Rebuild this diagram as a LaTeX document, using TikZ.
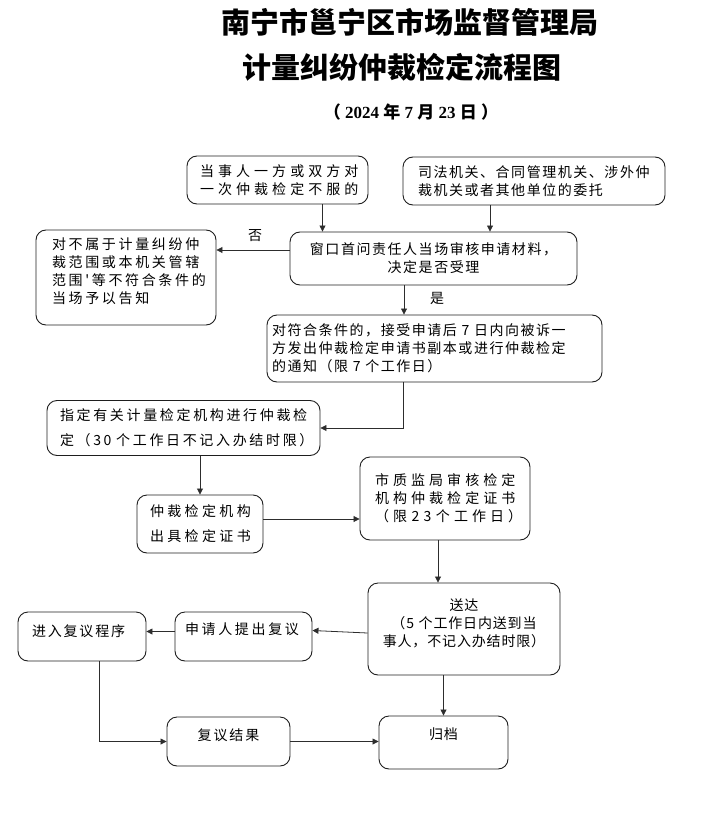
\documentclass[tikz,border=0pt]{standalone}
\usepackage{fontspec}
\setmainfont{Liberation Serif}
\newfontfamily\cjk{Noto Sans CJK SC}
\definecolor{boxline}{RGB}{30,30,30}
\definecolor{arrowline}{RGB}{45,45,45}
\usetikzlibrary{arrows.meta, positioning, calc}

\begin{document}
\begin{tikzpicture}[x=1pt, y=-1pt,
  >={Triangle[length=6pt,width=6pt]},
  procbox/.style={
    rectangle, rounded corners=10pt,
    draw=boxline, line width=0.9pt,
    inner xsep=0pt, inner ysep=3pt,
  },
  ls/.style={
    font=\fontsize{14}{18}\selectfont\cjk\addfontfeature{LetterSpace=#1},
  },
  arr/.style={
    ->, line width=0.8pt, color=arrowline,
  },
  titletext/.style={
    font=\fontsize{29}{35}\selectfont\cjk\bfseries,
  },
  lbl/.style={
    font=\fontsize{14}{16}\selectfont\cjk,
  },
]
\useasboundingbox (0,0) rectangle (722,832);

% --- Title ---
\node[titletext] (title1) at (410, 22) {南宁市邕宁区市场监督管理局};
\node[titletext] (title2) at (402, 67) {计量纠纷仲裁检定流程图};
\node[font=\fontsize{17}{20}\selectfont\bfseries] (date) at (411, 112)
  {{\cjk （}~2024~{\cjk 年}~7~{\cjk 月}~23~{\cjk 日}~{\cjk ）}};

% --- Application ---
\node[procbox, ls=29, align=left, text width=155pt,
      minimum width=181pt, minimum height=48pt] (party) at (277.5, 180)
  {当事人一方或双方对\\一次仲裁检定不服的};
\node[procbox, ls=11, align=left, text width=232pt,
      minimum width=262pt, minimum height=48pt] (entrust) at (534, 181)
  {司法机关、合同管理机关、涉外仲\\裁机关或者其他单位的委托};
\node[procbox, ls=11, align=center, text width=270pt,
      minimum width=287pt, minimum height=53pt] (accept) at (433.5, 258.5)
  {窗口首问责任人当场审核申请材料，\\决定是否受理};
\node[procbox, ls=19, align=left, text width=148pt, text depth=67pt,
      minimum width=180pt, minimum height=95pt] (reject) at (126, 277.5)
  {对不属于计量纠纷仲\\裁范围或本机关管辖\\范围'等不符合条件的\\当场予以告知};

% --- Arbitration ---
\node[procbox, ls=11, align=left, text width=325pt,
      minimum width=335pt, minimum height=67pt] (notice) at (434.5, 348.5)
  {对符合条件的，接受申请后~7~日内向被诉一\\方发出仲裁检定申请书副本或进行仲裁检定\\的通知（限~7~个工作日）};
\node[procbox, ls=19, align=left, text width=247pt,
      minimum width=273pt, minimum height=55pt] (assign) at (183.5, 428)
  {指定有关计量检定机构进行仲裁检\\[7pt]定（30~个工作日不记入办结时限）};
\node[procbox, ls=24, align=left, text width=100pt,
      minimum width=126pt, minimum height=58pt] (certify) at (200, 524)
  {仲裁检定机构\\[7pt]出具检定证书};
\node[procbox, ls=29, align=left, text width=140pt,
      minimum width=170pt, minimum height=83pt] (review) at (445, 498.5)
  {市质监局审核检定\\机构仲裁检定证书\\（限~23~个工作日）};

% --- Delivery and review ---
\node[procbox, ls=6, align=center, text width=180pt, text depth=49pt,
      minimum width=192pt, minimum height=92pt] (deliver) at (464, 629)
  {送达\\（5~个工作日内送到当\\事人，不记入办结时限）};
\node[procbox, ls=19, align=left, text width=117pt, text depth=15pt,
      minimum width=137pt, minimum height=49pt] (appeal) at (243.5, 636.5)
  {申请人提出复议};
\node[procbox, ls=13, align=left, text width=100pt, text depth=12pt,
      minimum width=128pt, minimum height=49pt] (procedure) at (82, 636.5)
  {进入复议程序};
\node[procbox, ls=14, align=center, text width=110pt, text depth=13pt,
      minimum width=123pt, minimum height=49pt] (result) at (228.5, 741.5)
  {复议结果};
\node[procbox, ls=6, align=center, text width=110pt, text depth=17pt,
      minimum width=129pt, minimum height=53pt] (archive) at (443.5, 742.5)
  {归档};

% --- Branch labels ---
\node[lbl] (no) at (255, 236) {否};
\node[lbl] (yes) at (437, 298) {是};

% --- Connectors ---
\draw[arr] ([xshift=45pt]party.south) -- ([xshift=45pt]party.south |- accept.north);
\draw[arr] ([xshift=-44pt]entrust.south) -- ([xshift=-44pt]entrust.south |- accept.north);
\draw[arr] ([yshift=8.5pt]accept.west) -- ([yshift=8.5pt]accept.west -| reject.east);
\draw[arr] ([xshift=-29.5pt]accept.south) -- ([xshift=-29.5pt]accept.south |- notice.north);
\draw[arr] ([xshift=-31.5pt]notice.south) |- (assign.east);
\draw[arr] (assign.south -| certify.north) -- (certify.north);
\draw[arr] ([yshift=5pt]certify.east) -- ([yshift=5pt]certify.east -| review.west);
\draw[arr] ([xshift=-7pt]review.south) -- ([xshift=-7pt]review.south |- deliver.north);
\draw[arr] ([yshift=-4pt]deliver.west) -- ([yshift=6pt]appeal.east);
\draw[arr] ([yshift=5pt]appeal.west) -- ([yshift=5pt]appeal.west -| procedure.east);
\draw[arr] ([xshift=17pt]procedure.south) |- (result.west);
\draw[arr] (result.east) -- (result.east -| archive.west);
\draw[arr] (deliver.south -| archive.north) -- (archive.north);

\end{tikzpicture}
\end{document}
